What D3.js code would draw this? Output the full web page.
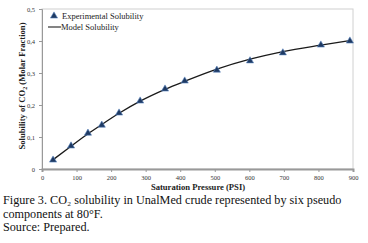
<!DOCTYPE html>
<html>
<head>
<meta charset="utf-8">
<script src="https://cdn.jsdelivr.net/npm/d3@7"></script>
<style>
  body { margin: 0; background: #fff; }
  svg { display: block; }
</style>
</head>
<body>
<div id="chart"></div>
<script>
// experimental points
var pressure = [32, 84, 133, 173, 223, 284, 356, 413, 506, 602, 697, 807, 891];
var solubility = [0.028, 0.072, 0.112, 0.137, 0.175, 0.2125, 0.25, 0.275, 0.309, 0.338, 0.363, 0.3875, 0.40];
// model curve
var modelP = [32, 84, 133, 173, 223, 284, 356, 413, 506, 602, 697, 807, 891];
var modelS = [0.029, 0.071, 0.11, 0.139, 0.174, 0.212, 0.249, 0.274, 0.312, 0.343, 0.367, 0.387, 0.401];
var xTicks = [0, 100, 200, 300, 400, 500, 600, 700, 800, 900];
var yTicks = [0, 0.1, 0.2, 0.3, 0.4, 0.5];
var captionLines = [
    'Figure 3. CO\u2082 solubility in UnalMed crude represented by six pseudo',
    'components at 80\u00B0F.',
    'Source: Prepared.'
];

var width = 368, height = 243;
var plotL = 42, plotR = 353, plotT = 9, plotB = 169;
var serif = '"Liberation Serif", "DejaVu Serif", serif';

var svg = d3.select('#chart').append('svg')
    .attr('width', width)
    .attr('height', height);

var x = d3.scaleLinear().domain([0, 900]).range([plotL, plotR]);
var y = d3.scaleLinear().domain([0, 0.5]).range([plotB, plotT]);

// frame
svg.append('rect')
    .attr('x', plotL).attr('y', plotT)
    .attr('width', plotR - plotL).attr('height', plotB - plotT)
    .attr('fill', 'none')
    .attr('stroke', '#d0d0d0')
    .attr('stroke-width', 1);

// y axis
var yAxis = svg.append('g')
    .attr('transform', 'translate(' + plotL + ',0)')
    .call(d3.axisLeft(y).tickValues(yTicks).tickSize(3).tickPadding(4)
        .tickFormat(d => d === 0 ? '0' : d3.format('.1f')(d).replace('.', ',')));
yAxis.select('.domain').attr('stroke', '#999');
yAxis.selectAll('line').attr('stroke', '#999');
yAxis.selectAll('text').attr('font-family', serif).attr('font-size', 6.5).attr('fill', '#333');

// x axis
var xAxis = svg.append('g')
    .attr('transform', 'translate(0,' + plotB + ')')
    .call(d3.axisBottom(x).tickValues(xTicks).tickSize(3).tickPadding(3));
xAxis.select('.domain').attr('stroke', '#999').attr('stroke-width', 2);
xAxis.selectAll('line').attr('stroke', '#999');
xAxis.selectAll('text').attr('font-family', serif).attr('font-size', 6.5).attr('fill', '#333');

// model line
var line = d3.line()
    .x((d, i) => x(modelP[i]))
    .y(d => y(d))
    .curve(d3.curveMonotoneX);
svg.append('path')
    .datum(modelS)
    .attr('d', line)
    .attr('fill', 'none')
    .attr('stroke', '#1a1a1a')
    .attr('stroke-width', 1.3);

// triangles
var tri = d3.symbol().type(d3.symbolTriangle).size(22);
svg.selectAll('.pt')
    .data(solubility)
    .enter()
    .append('path')
    .attr('class', 'pt')
    .attr('d', tri)
    .attr('transform', (d, i) => 'translate(' + x(pressure[i]) + ',' + y(d) + ')')
    .attr('fill', '#1f3a63')
    .attr('stroke', '#5b84bd')
    .attr('stroke-width', 0.6);

// legend
svg.append('path')
    .attr('d', tri)
    .attr('transform', 'translate(54,16)')
    .attr('fill', '#1f3a63')
    .attr('stroke', '#5b84bd')
    .attr('stroke-width', 0.6);
svg.append('text')
    .attr('x', 62).attr('y', 19)
    .attr('font-family', serif).attr('font-size', 8.5)
    .attr('fill', '#222')
    .text('Experimental Solubility');
svg.append('line')
    .attr('x1', 48).attr('x2', 61)
    .attr('y1', 27).attr('y2', 27)
    .attr('stroke', '#333').attr('stroke-width', 1.2);
svg.append('text')
    .attr('x', 61).attr('y', 30)
    .attr('font-family', serif).attr('font-size', 8.5)
    .attr('fill', '#222')
    .text('Model Solubility');

// axis titles
svg.append('text')
    .attr('transform', 'translate(25,86) rotate(-90)')
    .attr('text-anchor', 'middle')
    .attr('font-family', serif).attr('font-size', 8.6).attr('font-weight', 'bold')
    .attr('fill', '#222')
    .html('Solubility of CO<tspan font-size="6" dy="2">2</tspan><tspan dy="-2"> (Molar Fraction)</tspan>');

svg.append('text')
    .attr('x', 198).attr('y', 190)
    .attr('text-anchor', 'middle')
    .attr('font-family', serif).attr('font-size', 8.6).attr('font-weight', 'bold')
    .attr('fill', '#222')
    .text('Saturation Pressure (PSI)');

// caption
svg.selectAll('.cap')
    .data(captionLines)
    .enter()
    .append('text')
    .attr('class', 'cap')
    .attr('x', 3)
    .attr('y', (d, i) => 204 + i * 13.5)
    .attr('font-family', serif).attr('font-size', 12.2)
    .attr('fill', '#111')
    .text(d => d);
</script>
</body>
</html>
